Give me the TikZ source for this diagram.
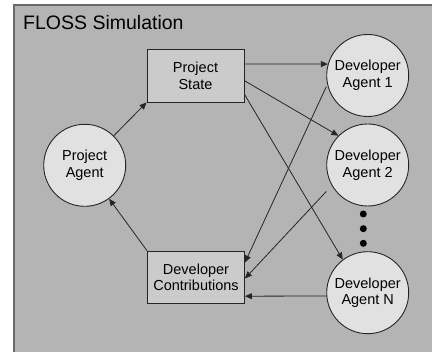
\documentclass[tikz,border=0pt]{standalone}
\usepackage{fontspec}
\setmainfont{Liberation Sans}
\usetikzlibrary{arrows.meta}
\definecolor{panelgray}{HTML}{B4B4B4}
\definecolor{framegray}{HTML}{6A6A6A}
\definecolor{boxgray}{HTML}{CBCBCB}
\definecolor{agentgray}{HTML}{E1E1E1}
\definecolor{inkgray}{HTML}{262626}
\tikzset{
  statebox/.style={draw=inkgray, fill=boxgray, line width=0.9pt,
    minimum width=97pt, minimum height=53pt, inner sep=0pt, align=center,
    font=\fontsize{14.5}{16.7}\selectfont},
  agent/.style={circle, draw=inkgray, fill=agentgray, line width=0.9pt,
    minimum size=82pt, inner sep=0pt, align=center,
    font=\fontsize{14.5}{16.7}\selectfont},
  arr/.style={draw=inkgray, line width=0.8pt, -{Triangle[length=7pt,width=6pt]}},
  dot/.style={circle, fill=black, minimum size=7pt, inner sep=0pt}
}
\begin{document}
\begin{tikzpicture}[x=1pt, y=-1pt]
\useasboundingbox (0,0) rectangle (432,352);
\clip (0,0) rectangle (432,352);
\fill[white] (0,0) rectangle (432,352);
% simulation panel
\draw[framegray, fill=panelgray, line width=2pt] (14,5) rectangle (450,370);
\node[anchor=base west, inner sep=0pt, font=\fontsize{19.5}{22}\selectfont] (title) at (23,30) {FLOSS Simulation};

% boxes and agents
\node[statebox] (ps) at (195.5,75.5) {Project\\State};
\node[statebox, minimum height=52pt] (dc) at (196,277.2) {Developer\\Contributions};
\node[agent] (pa) at (84.7,165.3) {Project\\Agent};
\node[agent] (a1) at (367.7,75.5) {Developer\\Agent 1};
\node[agent] (a2) at (367.7,165) {Developer\\Agent 2};
\node[agent] (aN) at (367.7,292.7) {Developer\\Agent N};

% ellipsis between agent 2 and agent N
\node[dot] (d1) at (363.3,214) {};
\node[dot] (d2) at (363.3,228.7) {};
\node[dot] (d3) at (363.3,243.3) {};

% project cycle
\draw[arr] (pa) -- (ps.south west);
\draw[arr] (dc.north west) -- (pa);

% state broadcast to developers
\draw[arr] ([yshift=11.5pt]ps.east) -- (a1.164);
\draw[arr] ([yshift=-5.2pt]ps.east) -- (a2.135);
\draw[arr] ([yshift=-18.8pt]ps.east) -- (aN.127);

% developer contributions
\draw[arr] ([yshift=-11.2pt]a1.west) -- ([yshift=14.7pt]dc.east);
\draw[arr] ([yshift=-26.5pt]a2.west) -- ([yshift=-1.3pt]dc.east);
\draw[arr] ([yshift=-3.3pt]aN.west) -- ([yshift=-19pt]dc.east);
\end{tikzpicture}
\end{document}
